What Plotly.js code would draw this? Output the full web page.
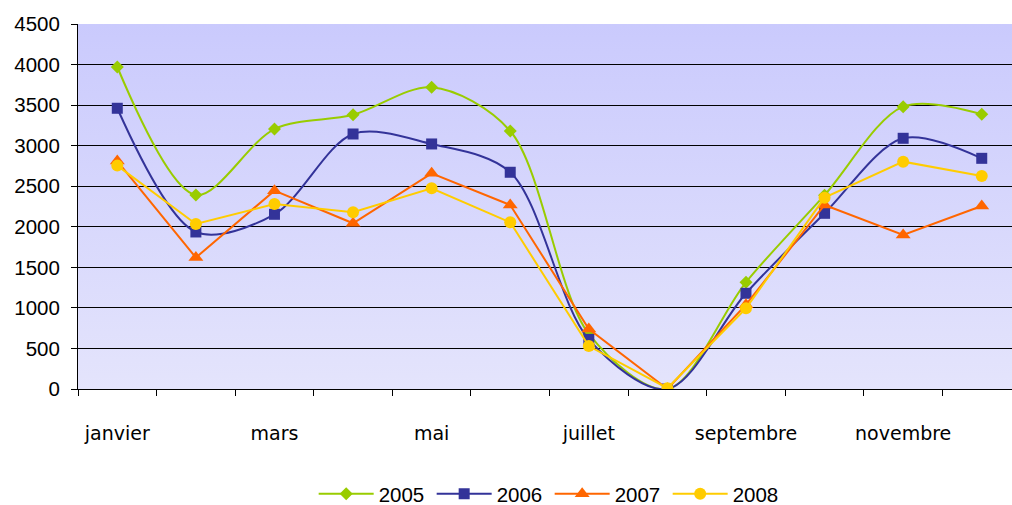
<!DOCTYPE html>
<html>
<head>
<meta charset="utf-8">
<script src="https://cdn.plot.ly/plotly-3.0.1.min.js"></script>
<style>html,body{margin:0;padding:0;background:#fff;}#chart{width:1012px;height:505px;}</style>
</head>
<body>
<div id="chart"></div>
<script>
const months = ["janvier","février","mars","avril","mai","juin","juillet","août","septembre","octobre","novembre","décembre"];
const tickMonths = ["janvier","mars","mai","juillet","septembre","novembre"];
const years = ["2005","2006","2007","2008"];
const v2005 = [3970, 2392, 3205, 3380, 3720, 3181, 680, 0, 1316, 2390, 3481, 3387];
const v2006 = [3461, 1936, 2154, 3144, 3021, 2672, 612, 0, 1180, 2166, 3091, 2844];
const v2007 = [2810, 1620, 2445, 2043, 2659, 2269, 740, 0, 1040, 2269, 1899, 2256];
const v2008 = [2754, 2035, 2281, 2179, 2474, 2055, 530, 10, 995, 2359, 2803, 2626];

const idx = months.map((m, i) => i);
const tickIdx = tickMonths.map(m => months.indexOf(m));

function tr(name, y, color, symbol, size, shape) {
  return {
    type: 'scatter', mode: 'lines+markers', name: name, x: idx, y: y,
    text: months, hovertemplate: '%{text}: %{y}<extra>' + name + '</extra>',
    line: {color: color, width: 2, shape: shape, smoothing: 0.9},
    marker: {color: color, symbol: symbol, size: size}
  };
}

const data = [
  tr(years[0], v2005, '#99cc00', 'diamond', 10, 'spline'),
  tr(years[1], v2006, '#333399', 'square', 11, 'spline'),
  tr(years[2], v2007, '#ff6600', 'triangle-up', 13, 'linear'),
  tr(years[3], v2008, '#ffcc00', 'circle', 12, 'linear')
];

const svg = "<svg xmlns='http://www.w3.org/2000/svg' width='10' height='10' preserveAspectRatio='none'>" +
  "<defs><linearGradient id='g' x1='0' y1='0' x2='0' y2='1'>" +
  "<stop offset='0' stop-color='#cacafd'/><stop offset='1' stop-color='#e4e4fc'/>" +
  "</linearGradient></defs><rect width='10' height='10' fill='url(#g)'/></svg>";
const bg = 'data:image/svg+xml;charset=utf-8,' + encodeURIComponent(svg);

const layout = {
  width: 1012, height: 505,
  margin: {l: 78, r: 0, t: 24, b: 116, autoexpand: false},
  paper_bgcolor: '#ffffff',
  plot_bgcolor: '#d8d8fc',
  showlegend: true,
  images: [{source: bg, xref: 'paper', yref: 'paper', x: 0, y: 1, sizex: 1, sizey: 1,
            xanchor: 'left', yanchor: 'top', sizing: 'stretch', layer: 'below'}],
  xaxis: {
    range: [-0.5, 11.385], automargin: false,
    tickmode: 'array', tickvals: tickIdx, ticktext: tickMonths,
    ticks: '', showgrid: false, zeroline: false,
    showline: true, linecolor: '#000', linewidth: 1,
    ticklabelstandoff: 27,
    tickfont: {family: 'DejaVu Sans, sans-serif', size: 19, color: '#000'},
    minor: {tick0: -0.5, dtick: 1, ticks: 'outside', ticklen: 6, tickcolor: '#000', tickwidth: 1, showgrid: false}
  },
  yaxis: {
    range: [0, 4500], dtick: 500, tick0: 0, automargin: false,
    showgrid: true, gridcolor: '#000', gridwidth: 1,
    zeroline: false, showline: true, linecolor: '#000', linewidth: 1,
    ticks: 'outside', ticklen: 6, tickcolor: '#000',
    ticklabelstandoff: 7,
    tickfont: {family: 'Liberation Sans, Arial, sans-serif', size: 20.5, color: '#000'}
  },
  legend: {
    orientation: 'h', x: 0.505, xanchor: 'center', xref: 'paper',
    yref: 'container', y: 0.022, yanchor: 'middle',
    font: {family: 'Liberation Sans, Arial, sans-serif', size: 20.5, color: '#000'},
    itemwidth: 55,
    entrywidth: 48, entrywidthmode: 'pixels', bgcolor: 'rgba(0,0,0,0)'
  },
  hovermode: 'closest'
};

Plotly.newPlot('chart', data, layout, {displayModeBar: false, staticPlot: true});
</script>
</body>
</html>
